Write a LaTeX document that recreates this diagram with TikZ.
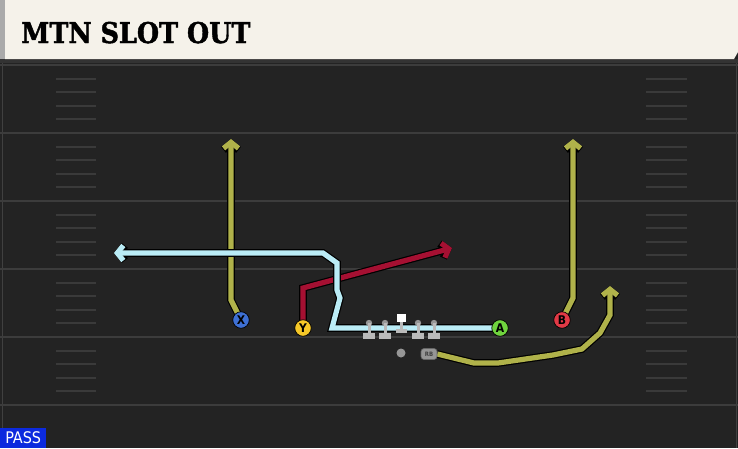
\documentclass[tikz,border=0pt]{standalone}
\usepackage{fontspec}
\usetikzlibrary{arrows.meta,backgrounds}
\newfontfamily\titlefont{DejaVu Serif Bold}[FakeBold=1.6]
\newfontfamily\condfont{DejaVu Sans Condensed}[BoldFont={DejaVu Sans Condensed Bold}]

\definecolor{turf}{RGB}{35,35,35}
\definecolor{yardline}{RGB}{60,60,60}
\definecolor{hashmark}{RGB}{58,58,58}
\definecolor{banner}{RGB}{245,242,234}
\definecolor{bannerside}{RGB}{170,170,170}
\definecolor{olive}{RGB}{176,178,74}
\definecolor{crimson}{RGB}{165,16,50}
\definecolor{icecyan}{RGB}{186,236,246}
\definecolor{xblue}{RGB}{62,112,212}
\definecolor{yyellow}{RGB}{246,200,40}
\definecolor{agreen}{RGB}{112,212,62}
\definecolor{bred}{RGB}{226,58,70}
\definecolor{passblue}{RGB}{12,42,222}
\definecolor{guardhead}{RGB}{150,150,150}
\definecolor{guardbody}{RGB}{186,186,186}

\tikzset{
  route/.style={line width=5.2pt, line join=miter,
    -{Straight Barb[length=6pt,width=15pt]},
    preaction={draw=black, line width=7.6pt}},
  player/.style={circle, draw=black, line width=0.7pt, minimum size=16.5pt,
    inner sep=0pt, text=black, font=\condfont\bfseries\fontsize{12}{12}\selectfont},
  lineman/.pic={
    \fill[guardhead] (0,0) circle (3.2);
    \fill[guardbody] (-1.5,0) rectangle (1.5,10);
    \fill[guardbody] (-6,10) rectangle (6,16);
  },
  snapper/.pic={
    \fill[white] (-4.5,-4.5) rectangle (4.5,4);
    \fill[guardbody] (-1.5,4) rectangle (1.5,11);
    \fill[guardbody] (-5.5,11) rectangle (5.5,15);
  }
}

\begin{document}
\begin{tikzpicture}[x=1pt,y=-1pt]
  \useasboundingbox (0,0) rectangle (738,448);

  \begin{scope}[on background layer]
    \fill[turf] (0,0) rectangle (738,448);
    \fill[black!80] (0,59) rectangle (738,63);
    \fill[banner] (5,0) -- (738,0) -- (738,52) -- (734,59) -- (5,59) -- cycle;
    \fill[bannerside] (0,0) rectangle (5,59);
    \draw[black!75!white, line width=1pt] (2.5,63) -- (2.5,448);
    \draw[black!75!white, line width=1pt] (736,63) -- (736,448);
    \foreach \y in {65,133,201,269,337,405}
      \draw[yardline, line width=2pt] (0,\y) -- (738,\y);
    \foreach \y in {65,133,201,269,337}
      \foreach \k in {1,...,4} {
        \draw[hashmark, line width=2pt] (56,\y+13.6*\k) -- (96,\y+13.6*\k);
        \draw[hashmark, line width=2pt] (646,\y+13.6*\k) -- (687,\y+13.6*\k);
      }
  \end{scope}

  \node[anchor=base west, inner sep=0pt, text=black,
    font=\titlefont\fontsize{25.5}{25.5}\selectfont] (title) at (21,43)
    {\scalebox{1}[1.12]{MTN SLOT OUT}};

  \node[player, fill=xblue] (X) at (241,320) {X};
  \node[player, fill=yyellow] (Y) at (303,328) {Y};
  \node[player, fill=agreen] (A) at (500,328) {A};
  \node[player, fill=bred] (B) at (562,320) {B};

  \pic (lt) at (369,323) {lineman};
  \pic (lg) at (385,323) {lineman};
  \pic (c) at (401,318) {snapper};
  \pic (rg) at (418,323) {lineman};
  \pic (rt) at (434,323) {lineman};

  \node[circle, fill=guardhead, minimum size=9pt, inner sep=0pt] (qb) at (401,353) {};
  \node[rounded corners=3pt, fill=guardhead, draw=black!60, line width=0.6pt,
    minimum width=16pt, minimum height=11pt, inner sep=0pt, text=black!75,
    font=\condfont\bfseries\fontsize{6}{6}\selectfont] (rb) at (429,354) {RB};

  \coordinate (xgo) at (231,139);
  \coordinate (bgo) at (573,139);
  \coordinate (ypost) at (452,248);
  \coordinate (adrag) at (114,253);
  \coordinate (rbwheel) at (610,286);

  \begin{scope}[on background layer]
    \draw[route, olive] (X.center) -- (231,300) -- (xgo);
    \draw[route, olive] (B.center) -- (573,298) -- (bgo);
    \draw[route, crimson] (Y.center) -- (303,288) -- (ypost);
    \draw[route, icecyan] (A.center) -- (332,328) -- (340,298) -- (337,290)
      -- (337,263) -- (323,253) -- (adrag);
    \draw[route, olive] (rb.east) -- (474,363) -- (498,363) -- (553,355)
      -- (582,349) -- (600,333) -- (610,315) -- (rbwheel);
  \end{scope}

  \node[anchor=south west, fill=passblue, minimum width=46pt, minimum height=20pt,
    inner sep=0pt, text=white, font=\condfont\fontsize{16}{16}\selectfont] (pass) at (0,448) {PASS};
\end{tikzpicture}
\end{document}
